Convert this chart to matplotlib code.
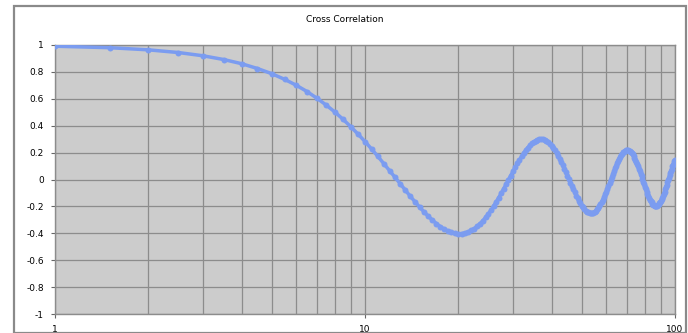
import numpy as np
import matplotlib
matplotlib.use("Agg")
import matplotlib.pyplot as plt
from matplotlib.patches import Rectangle
from matplotlib.ticker import FixedLocator, NullFormatter

title = "Cross Correlation"

# lag values (sampling grid: every 0.5 from 1 to 100)
lags = np.arange(1.0, 100.5, 0.5)

# correlation values, one per lag
correlation = [
    0.991, 0.980, 0.964, 0.944, 0.920, 0.892, 0.861, 0.825, 0.787, 0.745,
    0.701, 0.654, 0.604, 0.553, 0.501, 0.447, 0.392, 0.337, 0.282, 0.227,
    0.172, 0.118, 0.066, 0.016, -0.033, -0.080, -0.125, -0.166, -0.205, -0.241,
    -0.273, -0.302, -0.328, -0.350, -0.368, -0.382, -0.393, -0.400, -0.403, -0.402,
    -0.398, -0.390, -0.379, -0.365, -0.348, -0.328, -0.306, -0.281, -0.255, -0.227,
    -0.197, -0.166, -0.134, -0.102, -0.069, -0.036, -0.003, 0.029, 0.060, 0.090,
    0.119, 0.146, 0.172, 0.196, 0.218, 0.237, 0.254, 0.268, 0.280, 0.289,
    0.295, 0.299, 0.300, 0.298, 0.294, 0.287, 0.278, 0.266, 0.252, 0.235,
    0.217, 0.198, 0.176, 0.154, 0.130, 0.105, 0.080, 0.054, 0.028, 0.002,
    -0.023, -0.048, -0.073, -0.096, -0.119, -0.140, -0.159, -0.178, -0.194, -0.208,
    -0.221, -0.231, -0.239, -0.245, -0.248, -0.250, -0.249, -0.246, -0.240, -0.233,
    -0.223, -0.212, -0.199, -0.184, -0.168, -0.150, -0.131, -0.111, -0.090, -0.069,
    -0.047, -0.025, -0.003, 0.019, 0.041, 0.062, 0.083, 0.102, 0.120, 0.138,
    0.153, 0.168, 0.180, 0.191, 0.201, 0.208, 0.213, 0.217, 0.218, 0.218,
    0.215, 0.211, 0.205, 0.197, 0.187, 0.176, 0.163, 0.148, 0.133, 0.117,
    0.099, 0.081, 0.062, 0.043, 0.023, 0.003, -0.016, -0.036, -0.054, -0.072,
    -0.090, -0.107, -0.122, -0.137, -0.149, -0.161, -0.171, -0.180, -0.186, -0.192,
    -0.195, -0.196, -0.196, -0.194, -0.190, -0.185, -0.178, -0.169, -0.159, -0.148,
    -0.135, -0.121, -0.106, -0.091, -0.074, -0.057, -0.040, -0.022, -0.004, 0.014,
    0.032, 0.049, 0.065, 0.081, 0.097, 0.111, 0.124, 0.136, 0.147,
]

x_ticks = [1, 10, 100]
x_tick_labels = ["1", "10", "100"]
x_minor = [2, 3, 4, 5, 6, 7, 8, 9, 20, 30, 40, 50, 60, 70, 80, 90]
y_ticks = [-1, -0.8, -0.6, -0.4, -0.2, 0, 0.2, 0.4, 0.6, 0.8, 1]
y_tick_labels = ["-1", "-0.8", "-0.6", "-0.4", "-0.2", "0", "0.2", "0.4", "0.6", "0.8", "1"]

W, H = 688, 333
fig = plt.figure(figsize=(W / 100, H / 100), dpi=100)
fig.patch.set_facecolor("white")

# outer chart frame
fig.patches.append(Rectangle((14 / W, 0), (686 - 14) / W, 1 - 6 / H,
                             transform=fig.transFigure, fill=False,
                             edgecolor="#8a8a8a", linewidth=1.6))

left, right, top, bottom = 55, 675, 45, 314
ax = fig.add_axes([left / W, 1 - bottom / H, (right - left) / W, (bottom - top) / H])
ax.set_facecolor("#cccccc")
ax.set_xscale("log")
ax.set_xlim(1, 100)
ax.set_ylim(-1, 1)

ax.xaxis.set_major_locator(FixedLocator(x_ticks))
ax.set_xticklabels(x_tick_labels)
ax.xaxis.set_minor_locator(FixedLocator(x_minor))
ax.xaxis.set_minor_formatter(NullFormatter())
ax.set_yticks(y_ticks)
ax.set_yticklabels(y_tick_labels)

ax.grid(True, which="both", axis="x", color="#8c8c8c", linewidth=0.9)
ax.grid(True, which="major", axis="y", color="#8c8c8c", linewidth=0.9)
ax.set_axisbelow(True)

for s in ax.spines.values():
    s.set_color("#8c8c8c")
    s.set_linewidth(1.0)

ax.tick_params(axis="both", which="major", length=3, width=0.8, color="#666666",
               labelsize=6.5, labelcolor="#000000", pad=5)
ax.tick_params(axis="x", which="minor", length=0)

ax.plot(lags, correlation, color="#7b9cf0", linewidth=2.5, marker="o",
        markersize=4.3, markeredgewidth=0, markerfacecolor="#7b9cf0",
        solid_capstyle="round", zorder=3)

fig.text(345 / W, 1 - 19 / H, title, ha="center", va="center", fontsize=6.5,
         color="#000000")

fig.savefig("out.png", dpi=100, facecolor="white")
